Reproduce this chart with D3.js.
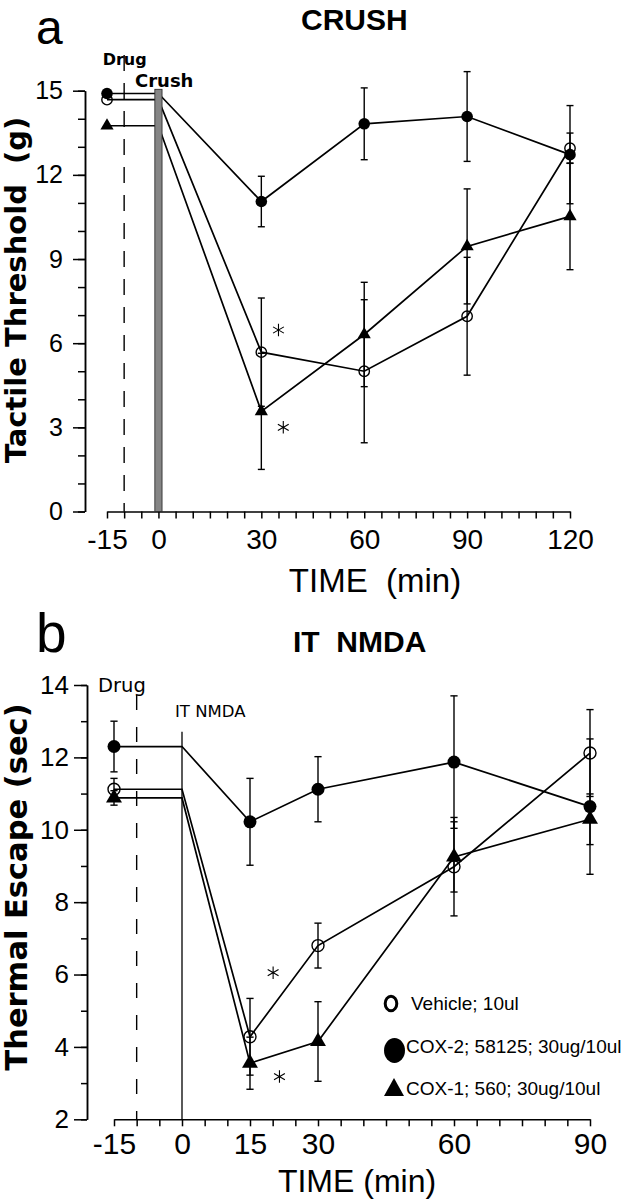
<!DOCTYPE html>
<html><head><meta charset="utf-8">
<script src="https://cdn.jsdelivr.net/npm/d3@7"></script>
<style>body{margin:0;background:#fff}svg{display:block}</style>
</head><body>
<script>
// ---------- DATA: panel a (CRUSH) ----------
const crushTimes = [-15, 30, 60, 90, 120];
const crushVehicle    = [14.68, 5.68, 5.00, 6.96, 12.95];
const crushVehicleErr = [0, 1.93, 2.55, 2.10, 0.54];
const crushCox2       = [14.90, 11.05, 13.82, 14.08, 12.72];
const crushCox2Err    = [0, 0.90, 1.28, 1.60, 1.75];
const crushCox1       = [13.75, 3.57, 6.31, 9.45, 10.52];
const crushCox1Err    = [0, 2.07, 1.86, 2.05, 1.90];
const crushXTickLabels = [-15, 0, 30, 60, 90, 120];
const crushYTickLabels = [0, 3, 6, 9, 12, 15];
const crushAsterisks = [[35, 6.47], [36.4, 3.0]];
const crushEventTime = 0;   // crush
const crushDrugTime = -10;  // drug

// ---------- DATA: panel b (IT NMDA) ----------
const nmdaTimes = [-15, 15, 30, 60, 90];
const nmdaVehicle    = [11.12, 4.28, 6.80, 8.98, 12.12];
const nmdaVehicleErr = [0.3, 1.06, 0.62, 1.36, 1.20];
const nmdaCox2       = [12.30, 10.22, 11.12, 11.87, 10.64];
const nmdaCox2Err    = [0.70, 1.20, 0.90, 1.83, 1.87];
const nmdaCox1       = [10.88, 3.55, 4.15, 9.25, 10.29];
const nmdaCox1Err    = [0.2, 0.72, 1.10, 0.97, 0.70];
const nmdaXTickLabels = [-15, 0, 15, 30, 60, 90];
const nmdaYTickLabels = [2, 4, 6, 8, 10, 12, 14];
const nmdaAsterisks = [[20.1, 6.05], [21.5, 3.18]];
const nmdaEventTime = 0;
const nmdaDrugTime = -10;

const legendLabels = ["Vehicle; 10ul", "COX-2; 58125; 30ug/10ul", "COX-1; 560; 30ug/10ul"];

// ---------- DRAWING ----------
const SANS = "'Liberation Sans', Arial, Helvetica, sans-serif";
const DJ = "'DejaVu Sans', Verdana, sans-serif";

const svg = d3.select("body").append("svg").attr("width", 628).attr("height", 1199);

function txt(g, s, x, y, size, opts = {}) {
  const t = g.append("text").attr("x", x).attr("y", y)
    .attr("font-family", opts.family || SANS)
    .attr("font-size", size)
    .attr("font-weight", opts.weight || "normal")
    .attr("text-anchor", opts.anchor || "start")
    .style("white-space", "pre")
    .attr("fill", "#000").text(s);
  if (opts.transform) t.attr("transform", opts.transform);
  if (opts.ls) t.attr("letter-spacing", opts.ls);
  return t;
}

function panel(cfg) {
  const g = svg.append("g");
  const x = d3.scaleLinear().domain(cfg.xDomain).range(cfg.xRange);
  const y = d3.scaleLinear().domain(cfg.yDomain).range(cfg.yRange);

  // y axis: minor + major
  const yMinor = g.append("g").attr("transform", `translate(${cfg.yAxisX},0)`)
    .call(d3.axisLeft(y).tickValues(d3.range(cfg.yDomain[0], cfg.yDomain[1] + 0.001, 1))
      .tickSize(cfg.yMinorLen).tickSizeOuter(0).tickFormat(""));
  const yMajor = g.append("g").attr("transform", `translate(${cfg.yAxisX},0)`)
    .call(d3.axisLeft(y).tickValues(cfg.yLabels).tickSize(cfg.yMajorLen).tickSizeOuter(0)
      .tickPadding(cfg.yPad).tickFormat(d => String(d)));
  [yMinor, yMajor].forEach(a => {
    a.selectAll("path,line").attr("stroke", "#000").attr("stroke-width", 1.5);
  });
  yMajor.selectAll("text").attr("font-family", SANS).attr("font-size", cfg.yFont).attr("fill", "#000");

  // x axis
  const xAx = g.append("g").attr("transform", `translate(0,${y(cfg.yDomain[0])})`)
    .call(d3.axisBottom(x).tickValues(d3.range(cfg.xDomain[0], cfg.xDomain[1] + 0.001, 5))
      .tickSize(7).tickSizeOuter(0).tickPadding(cfg.xPad)
      .tickFormat(d => cfg.xLabels.includes(d) ? String(d) : ""));
  xAx.selectAll("path,line").attr("stroke", "#000").attr("stroke-width", 1.5);
  xAx.selectAll("text").attr("font-family", SANS).attr("font-size", cfg.xFont).attr("fill", "#000");

  // dashed drug line
  g.append("line").attr("x1", x(cfg.drugTime)).attr("x2", x(cfg.drugTime))
    .attr("y1", cfg.dashTop).attr("y2", y(cfg.yDomain[0]))
    .attr("stroke", "#000").attr("stroke-width", 1.4).attr("stroke-dasharray", cfg.dash);

  // event line (solid) for panel b
  if (cfg.eventLine) {
    g.append("line").attr("x1", x(cfg.eventTime)).attr("x2", x(cfg.eventTime))
      .attr("y1", cfg.eventTop).attr("y2", y(cfg.yDomain[0]))
      .attr("stroke", "#000").attr("stroke-width", 1.3);
  }

  const series = cfg.series;
  // lines
  const line = d3.line().x(d => x(d[0])).y(d => y(d[1]));
  series.forEach(s => {
    const pts = [[cfg.times[0], s.v[0]], [cfg.eventTime, s.v[0]]];
    for (let i = 1; i < cfg.times.length; i++) pts.push([cfg.times[i], s.v[i]]);
    g.append("path").attr("d", line(pts)).attr("fill", "none")
      .attr("stroke", "#000").attr("stroke-width", 1.7);
  });

  // crush bar
  if (cfg.bar) {
    g.append("rect").attr("x", x(cfg.eventTime) - 3.6).attr("width", 7.2)
      .attr("y", y(15.05)).attr("height", y(cfg.yDomain[0]) - y(15.05))
      .attr("fill", "#858585").attr("stroke", "#222").attr("stroke-width", 0.8);
  }

  // error bars
  series.forEach(s => {
    cfg.times.forEach((t, i) => {
      const e = s.e[i]; if (!e) return;
      const cx = x(t), y1 = y(s.v[i] + e), y2 = y(s.v[i] - e);
      g.append("line").attr("x1", cx).attr("x2", cx).attr("y1", y1).attr("y2", y2)
        .attr("stroke", "#000").attr("stroke-width", 1.4);
      [y1, y2].forEach(yy => g.append("line").attr("x1", cx - cfg.cap).attr("x2", cx + cfg.cap)
        .attr("y1", yy).attr("y2", yy).attr("stroke", "#000").attr("stroke-width", 1.4));
    });
  });

  // markers
  series.forEach(s => {
    cfg.times.forEach((t, i) => {
      const cx = x(t), cy = y(s.v[i]);
      if (s.type === "open") {
        g.append("circle").attr("cx", cx).attr("cy", cy).attr("r", cfg.rOpen)
          .attr("fill", "none").attr("stroke", "#000").attr("stroke-width", 1.4);
      } else if (s.type === "filled") {
        g.append("circle").attr("cx", cx).attr("cy", cy).attr("r", cfg.rFilled).attr("fill", "#000");
      } else {
        g.append("path").attr("transform", `translate(${cx},${cy})`)
          .attr("d", d3.symbol(d3.symbolTriangle, cfg.triSize)()).attr("fill", "#000");
      }
    });
  });

  // asterisks
  cfg.asterisks.forEach(a => {
    g.append("path").attr("transform", `translate(${x(a[0])},${y(a[1])})`)
      .attr("d", d3.symbol(d3.symbolAsterisk, 110)())
      .attr("fill", "none").attr("stroke", "#000").attr("stroke-width", 1.1);
  });
  return { g, x, y };
}

// ----- Panel a -----
const pa = panel({
  xDomain: [-15, 120], xRange: [107, 570],
  yDomain: [0, 15], yRange: [511.5, 90.7],
  yAxisX: 85, yMinorLen: 7, yMajorLen: 12, yPad: 10, yFont: 25,
  xPad: 11, xFont: 28, xLabels: crushXTickLabels, yLabels: crushYTickLabels,
  drugTime: crushDrugTime, eventTime: crushEventTime, dashTop: 55, dash: "16,12",
  bar: true, times: crushTimes, cap: 3.5, rOpen: 5.2, rFilled: 5.8, triSize: 75,
  series: [
    { type: "open", v: crushVehicle, e: crushVehicleErr },
    { type: "filled", v: crushCox2, e: crushCox2Err },
    { type: "tri", v: crushCox1, e: crushCox1Err }
  ],
  asterisks: crushAsterisks
});
txt(svg, "a", 36, 43.5, 48);
txt(svg, "CRUSH", 301, 30, 30, { weight: "bold" });
txt(svg, "Drug", 102.7, 65, 16, { family: DJ, weight: "bold" });
txt(svg, "Crush", 135, 86.7, 18, { family: DJ, weight: "bold" });
txt(svg, "Tactile Threshold  (g)", 0, 0, 29, { family: DJ, weight: "bold", anchor: "middle", transform: "translate(26,290) rotate(-90)" });
txt(svg, "TIME  (min)", 375, 591.7, 33, { anchor: "middle" });

// ----- Panel b -----
const pb = panel({
  xDomain: [-15, 90], xRange: [114, 590],
  yDomain: [2, 14], yRange: [1119.3, 685],
  yAxisX: 87, yMinorLen: 6, yMajorLen: 13, yPad: 5, yFont: 26,
  xPad: 6, xFont: 30, xLabels: nmdaXTickLabels, yLabels: nmdaYTickLabels,
  drugTime: nmdaDrugTime, eventTime: nmdaEventTime, dashTop: 695, dash: "15,17",
  eventLine: true, eventTop: 731.7,
  bar: false, times: nmdaTimes, cap: 3.6, rOpen: 6, rFilled: 6.5, triSize: 110,
  series: [
    { type: "open", v: nmdaVehicle, e: nmdaVehicleErr },
    { type: "filled", v: nmdaCox2, e: nmdaCox2Err },
    { type: "tri", v: nmdaCox1, e: nmdaCox1Err }
  ],
  asterisks: nmdaAsterisks
});
txt(svg, "b", 36, 652, 55);
txt(svg, "IT  NMDA", 293, 652, 30, { weight: "bold" });
txt(svg, "Drug", 98, 691.7, 19.5, { family: DJ });
txt(svg, "IT NMDA", 175, 716.7, 16.5, { family: DJ });
txt(svg, "Thermal Escape (sec)", 0, 0, 30.5, { family: DJ, weight: "bold", anchor: "middle", transform: "translate(27,887) rotate(-90)" });
txt(svg, "TIME (min)", 357, 1191.5, 32, { anchor: "middle" });

// legend
const lg = svg.append("g");
lg.append("ellipse").attr("cx", 391).attr("cy", 1003.5).attr("rx", 5.8).attr("ry", 7.3)
  .attr("fill", "none").attr("stroke", "#000").attr("stroke-width", 3);
lg.append("ellipse").attr("cx", 394.5).attr("cy", 1050.5).attr("rx", 10.5).attr("ry", 12.5).attr("fill", "#000");
lg.append("path").attr("d", "M394,1078 L404,1096 L384,1096 Z").attr("fill", "#000");
txt(lg, legendLabels[0], 411, 1010, 19);
txt(lg, legendLabels[1], 406, 1052.7, 19);
txt(lg, legendLabels[2], 406, 1095, 19);
</script>
</body></html>
